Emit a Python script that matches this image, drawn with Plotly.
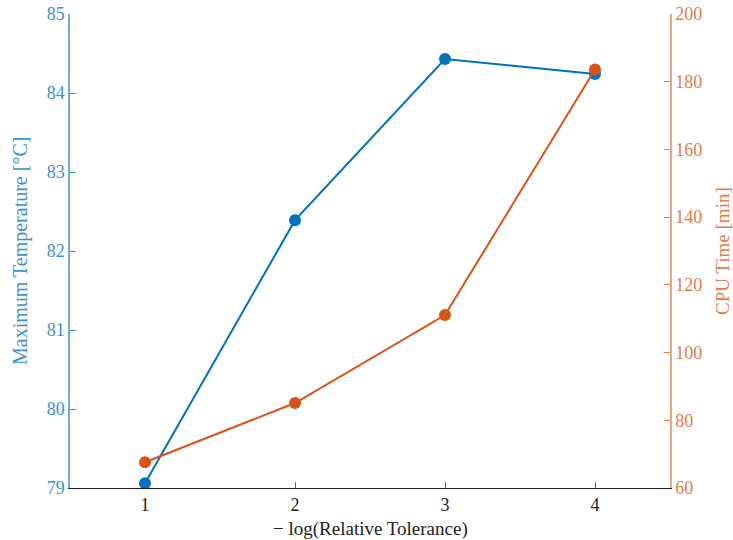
import plotly.graph_objects as go

x_vals = [1, 2, 3, 4]
max_temp = [79.06, 82.39, 84.43, 84.24]
cpu_time = [67.6, 85.1, 111.1, 183.6]
x_ticks = [1, 2, 3, 4]
y1_ticks = [79, 80, 81, 82, 83, 84, 85]
y2_ticks = [60, 80, 100, 120, 140, 160, 180, 200]

blue = "#0072BD"
orange = "#D95319"
font_family = "Liberation Serif"
left_col = "#3D91D1"
right_col = "#E67A4B"

fig = go.Figure()
fig.add_trace(go.Scatter(x=x_vals, y=max_temp, mode="lines+markers",
                         line=dict(color=blue, width=2),
                         marker=dict(color=blue, size=12), yaxis="y", showlegend=False))
fig.add_trace(go.Scatter(x=x_vals, y=cpu_time, mode="lines+markers",
                         line=dict(color=orange, width=2),
                         marker=dict(color=orange, size=12), yaxis="y2", showlegend=False))

fig.update_layout(
    width=733, height=540,
    margin=dict(l=70, r=63, t=14, b=52),
    paper_bgcolor="white", plot_bgcolor="white",
    font=dict(family=font_family, size=18, color="#222"),
    xaxis=dict(range=[0.5, 4.5], tickvals=x_ticks, ticks="inside", ticklen=6,
               tickcolor="#666", showline=True, linecolor="#222", linewidth=1,
               showgrid=False, zeroline=False, automargin=False,
               tickfont=dict(size=18, color="#222")),
    xaxis2=dict(range=[0.5, 4.5], tickvals=x_ticks, ticks="inside", ticklen=6,
                tickcolor="#bbb", showline=True, linecolor="#222", linewidth=1,
                overlaying="x", side="top", showticklabels=False, showgrid=False,
                zeroline=False, automargin=False),
    yaxis=dict(range=[79, 85], tickvals=y1_ticks, ticks="inside", ticklen=6,
               tickcolor=left_col, showline=True, linecolor="#6FADDD", linewidth=1.5,
               showgrid=False, zeroline=False, automargin=False,
               ticklabeloverflow="allow",
               tickfont=dict(size=18, color=left_col)),
    yaxis2=dict(range=[60, 200], tickvals=y2_ticks, ticks="inside", ticklen=6,
                tickcolor=right_col, showline=True, linecolor="#EFA584", linewidth=1.5,
                overlaying="y", side="right", showgrid=False, zeroline=False,
                automargin=False, ticklabeloverflow="allow",
                tickfont=dict(size=18, color=right_col)),
    annotations=[
        dict(text="\u2212 log(Relative Tolerance)", xref="paper", yref="paper",
             x=0.5, y=0, yshift=-28, xanchor="center", yanchor="top", showarrow=False,
             font=dict(size=19, color="#222")),
        dict(text="Maximum Temperature [\u00b0C]", xref="paper", yref="paper",
             x=0, xshift=-50, y=0.5, xanchor="center", yanchor="middle", textangle=-90,
             showarrow=False, font=dict(size=20, color=left_col)),
        dict(text="CPU Time [min]", xref="paper", yref="paper",
             x=1, xshift=52, y=0.5, xanchor="center", yanchor="middle", textangle=-90,
             showarrow=False, font=dict(size=19, color=right_col)),
    ],
)

fig.write_html("out.html", config={"displayModeBar": False},
               post_script="document.body.style.margin='0px';document.body.style.overflow='hidden';")
